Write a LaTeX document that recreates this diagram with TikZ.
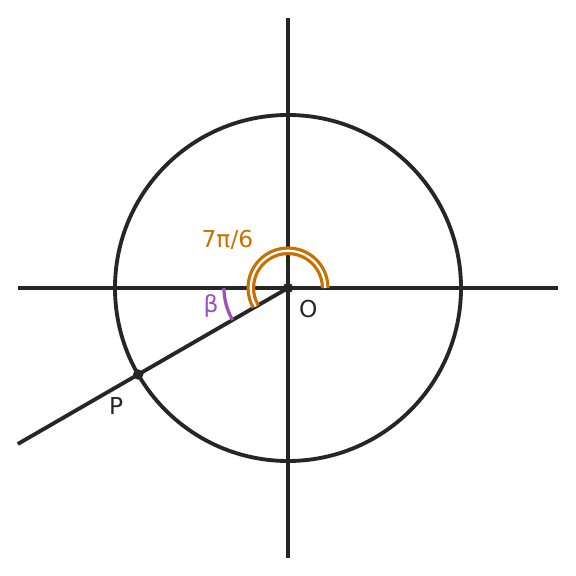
\documentclass[tikz,border=0pt]{standalone}
\usepackage{fontspec}
\setmainfont{DejaVu Sans}
\definecolor{ink}{HTML}{262626}
\definecolor{angorange}{HTML}{C87000}
\definecolor{angpurple}{HTML}{9A50C0}
\begin{document}
\begin{tikzpicture}[every node/.style={font=\fontsize{11.5}{13}\selectfont,text=ink}]
        \tikzset{axis/.style = {ink,line width=1.9pt}}
        \useasboundingbox (-4.994,-4.994) rectangle (4.994,4.994);
        \coordinate (O) at (0,0);
        \coordinate (P) at (210:3);
        \coordinate (E) at (210:5.41);
        \coordinate (L) at (-4.68,0);
        \coordinate (R) at (4.68,0);
        \coordinate (T) at (0,4.68);
        \coordinate (B) at (0,-4.68);
        
        \draw[axis] (L) -- (R);
        \draw[axis] (B) -- (T);
        \draw[axis] (O) circle (3);
        \draw[axis] (O) -- (E);
        
        \draw[angorange,line width=1.6pt,double=white,double distance=1.1pt] (0.645,0) arc (0:210:0.645);
        \draw[angpurple,line width=1.6pt] (180:1.11) arc (180:210:1.11);
        
        \fill[ink] (O) circle (0.09);
        \fill[ink] (P) circle (0.09);
        
        \node (lo) at (0.35,-0.36) {O};
        \node (lp) at (-2.98,-2.05) {P};
        \node[text=angorange] (lang) at (-1.05,0.84) {7π/6};
        \node[text=angpurple] (lbeta) at (-1.335,-0.31) {β};
\end{tikzpicture}
\end{document}
